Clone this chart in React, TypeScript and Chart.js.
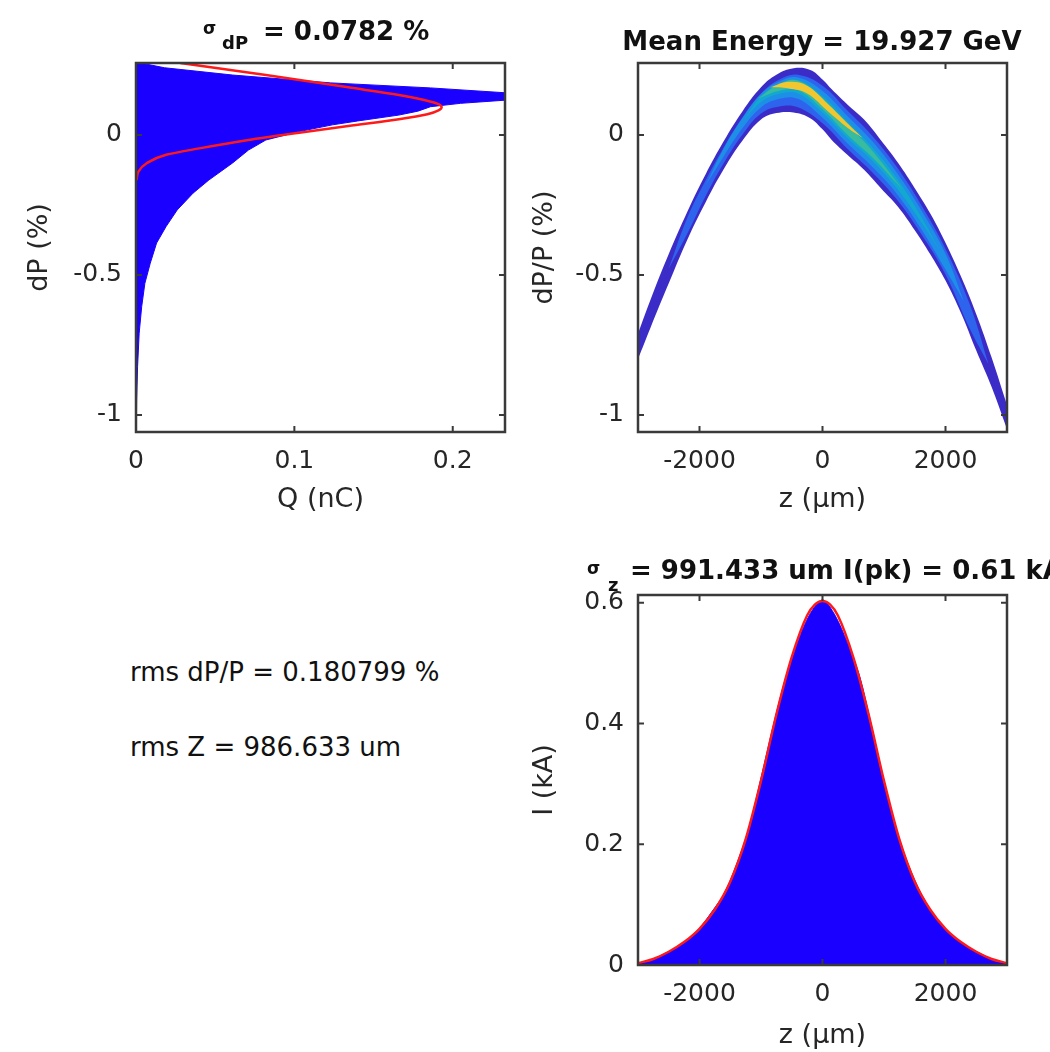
import React, { useEffect, useRef } from 'react';
import { Chart, registerables } from 'chart.js';

Chart.register(...registerables);

const FONT = '"DejaVu Sans", "Liberation Sans", sans-serif';
const INK = '#262626';
const FRAME = '#3a3a3a';
const BLUE = '#1a00ff';
const RED = '#ff1a1a';

// ---------- top-left: energy spectrum (Q vs dP) ----------
const SPEC_DP = [0.257, 0.24, 0.214, 0.186, 0.168, 0.15, 0.14, 0.125, 0.113, 0.101, 0.085, 0.071, 0.05, 0.036, 0.012, -0.018, -0.054, -0.1, -0.161, -0.208, -0.268, -0.327, -0.386, -0.458, -0.53, -0.613, -0.708, -0.827, -0.946, -1.061];
const SPEC_Q = [0.003, 0.018, 0.061, 0.123, 0.186, 0.235, 0.24, 0.235, 0.205, 0.186, 0.178, 0.166, 0.14, 0.124, 0.103, 0.082, 0.071, 0.061, 0.046, 0.036, 0.026, 0.019, 0.013, 0.009, 0.0056, 0.0036, 0.002, 0.001, 0.0004, 0.0002];
const FIT_DP = [0.257, 0.214, 0.17, 0.143, 0.125, 0.11, 0.099, 0.088, 0.074, 0.056, 0.032, 0.008, -0.018, -0.048, -0.071, -0.101, -0.131, -0.161];
const FIT_Q = [0.028, 0.082, 0.134, 0.166, 0.182, 0.191, 0.193, 0.191, 0.184, 0.166, 0.134, 0.103, 0.071, 0.04, 0.019, 0.0067, 0.0015, 0.0004];
const SPEC_Q_TICKS = [0, 0.1, 0.2];
const DP_TICKS = [-1, -0.5, 0];

// ---------- top-right: longitudinal phase space (density bands, outer -> core) ----------
const Z1 = [-3000, -2800, -2500, -2200, -1900, -1600, -1300, -1000, -750, -470, -200, 0, 150, 400, 680, 950, 1230, 1500, 1750, 2000, 2250, 2500, 2750, 3000];
const UP1 = [-0.71, -0.59, -0.425, -0.275, -0.14, -0.02, 0.085, 0.17, 0.215, 0.238, 0.232, 0.198, 0.163, 0.11, 0.054, -0.019, -0.1, -0.19, -0.28, -0.385, -0.505, -0.64, -0.795, -0.965];
const LO1 = [-0.8, -0.69, -0.53, -0.375, -0.24, -0.12, -0.02, 0.055, 0.078, 0.08, 0.06, 0.02, -0.018, -0.07, -0.125, -0.19, -0.257, -0.34, -0.425, -0.52, -0.635, -0.77, -0.9, -1.05];
const Z2 = [-2500, -2200, -1900, -1600, -1300, -1000, -700, -400, 0, 400, 800, 1200, 1600, 2000, 2400, 2700];
const UP2 = [-0.4775, -0.297, -0.162, -0.042, 0.063, 0.148, 0.198, 0.215, 0.176, 0.088, -0.001, -0.112, -0.248, -0.407, -0.608, -0.819];
const LO2 = [-0.4775, -0.353, -0.218, -0.098, 0.002, 0.077, 0.102, 0.099, 0.042, -0.048, -0.131, -0.228, -0.352, -0.498, -0.694, -0.819];
const Z3 = [-1900, -1600, -1300, -1000, -700, -400, 0, 400, 800, 1200, 1600, 2000, 2300];
const UP3 = [-0.18, -0.046, 0.0605, 0.1465, 0.191, 0.205, 0.157, 0.069, -0.02, -0.132, -0.266, -0.424, -0.595];
const LO3 = [-0.18, -0.074, 0.0245, 0.0985, 0.129, 0.129, 0.061, -0.029, -0.112, -0.208, -0.334, -0.481, -0.595];
const Z4 = [-1300, -1000, -700, -400, 0, 400, 800, 1200, 1600, 1900];
const UP4 = [0.0475, 0.1375, 0.183, 0.196, 0.139, 0.05, -0.042, -0.152, -0.29, -0.41];
const LO4 = [0.0475, 0.1175, 0.147, 0.148, 0.079, -0.01, -0.09, -0.188, -0.31, -0.41];
const Z5 = [-1050, -700, -400, 0, 400, 800, 1300];
const UP5 = [0.13, 0.182, 0.194, 0.132, 0.038, -0.054, -0.195];
const LO5 = [0.13, 0.158, 0.16, 0.092, 0.002, -0.078, -0.195];
const Z6 = [-850, -550, -250, 100, 400, 650];
const UP6 = [0.17, 0.19, 0.176, 0.108, 0.043, -0.01];
const LO6 = [0.17, 0.166, 0.148, 0.082, 0.027, -0.01];
const LAYER_COLORS = ['#f2c62e', '#38bb9e', '#12a8cf', '#1d8fe6', '#2e63ee', '#3b2cc8'];
const Z_TICKS = [-2000, 0, 2000];

// ---------- bottom-right: current profile ----------
const CUR_Z = [-3000, -2800, -2600, -2400, -2200, -2000, -1800, -1600, -1400, -1200, -1000, -800, -600, -400, -200, 0, 200, 400, 600, 800, 1000, 1200, 1400, 1600, 1800, 2000, 2200, 2400, 2600, 2800, 3000];
const CUR_I = [0.003, 0.008, 0.017, 0.028, 0.042, 0.061, 0.088, 0.118, 0.166, 0.226, 0.31, 0.397, 0.476, 0.536, 0.582, 0.605, 0.58, 0.535, 0.48, 0.395, 0.305, 0.226, 0.165, 0.119, 0.085, 0.06, 0.042, 0.028, 0.017, 0.008, 0.003];
const GFIT_Z = [-3000, -2750, -2500, -2250, -2000, -1750, -1500, -1250, -1000, -750, -500, -250, -125, 0, 125, 250, 500, 750, 1000, 1250, 1500, 1750, 2000, 2250, 2500, 2750, 3000];
const GFIT_I = [0.003, 0.01, 0.022, 0.038, 0.06, 0.092, 0.138, 0.208, 0.305, 0.415, 0.51, 0.579, 0.597, 0.603, 0.597, 0.579, 0.51, 0.415, 0.305, 0.208, 0.138, 0.092, 0.06, 0.038, 0.022, 0.01, 0.003];
const I_TICKS = [0, 0.2, 0.4, 0.6];

const framePlugin = {
  id: 'matlabFrame',
  afterDatasetsDraw(chart: any) {
    const { ctx, chartArea: a } = chart;
    const xs = chart.scales.x;
    const ys = chart.scales.y;
    const tl = 6;
    ctx.save();
    ctx.strokeStyle = FRAME;
    ctx.lineWidth = 2;
    ctx.beginPath();
    for (const t of xs.ticks) {
      const p = xs.getPixelForValue(t.value);
      ctx.moveTo(p, a.bottom);
      ctx.lineTo(p, a.bottom - tl);
      ctx.moveTo(p, a.top);
      ctx.lineTo(p, a.top + tl);
    }
    for (const t of ys.ticks) {
      const p = ys.getPixelForValue(t.value);
      ctx.moveTo(a.left, p);
      ctx.lineTo(a.left + tl, p);
      ctx.moveTo(a.right, p);
      ctx.lineTo(a.right - tl, p);
    }
    ctx.stroke();
    ctx.lineWidth = 2.5;
    ctx.strokeRect(a.left, a.top, a.right - a.left, a.bottom - a.top);
    ctx.restore();
  },
};

function axis(o: { min: number; max: number; ticks: number[]; size: number; isY: boolean; title: string; titlePad: number }) {
  return {
    type: 'linear',
    min: o.min,
    max: o.max,
    grid: { display: false, drawTicks: false },
    border: { display: false },
    afterBuildTicks: (s: any) => {
      s.ticks = o.ticks.map((v) => ({ value: v }));
    },
    afterFit: (s: any) => {
      if (o.isY) s.width = o.size;
      else s.height = o.size;
    },
    ticks: {
      padding: 14,
      color: INK,
      autoSkip: false,
      maxRotation: 0,
      font: { family: FONT, size: 25 },
      callback: (v: any) => String(v),
    },
    title: {
      display: true,
      text: o.title,
      color: INK,
      font: { family: FONT, size: 27 },
      padding: o.isY ? { top: o.titlePad, bottom: 0 } : { top: 0, bottom: o.titlePad },
    },
  };
}

const baseOptions = (padding: any) => ({
  responsive: false,
  animation: false,
  devicePixelRatio: 1,
  layout: { padding },
  plugins: { legend: { display: false }, tooltip: { enabled: false } },
  elements: { point: { radius: 0 } },
});

function specConfig(): any {
  return {
    type: 'line',
    data: {
      datasets: [
        {
          data: FIT_DP.map((d, i) => ({ x: FIT_Q[i], y: d })),
          borderColor: RED,
          borderWidth: 2.5,
          pointRadius: 0,
          fill: false,
          cubicInterpolationMode: 'monotone',
        },
        {
          data: SPEC_DP.map((d, i) => ({ x: SPEC_Q[i], y: d })),
          borderColor: BLUE,
          borderWidth: 1,
          backgroundColor: BLUE,
          pointRadius: 0,
          fill: 'origin',
          tension: 0,
        },
      ],
    },
    options: {
      ...baseOptions({ left: 0, top: 63, right: 15, bottom: 0 }),
      indexAxis: 'y',
      scales: {
        x: axis({ min: 0, max: 0.233, ticks: SPEC_Q_TICKS, size: 98, isY: false, title: 'Q (nC)', titlePad: 13.8 }),
        y: axis({ min: -1.061, max: 0.257, ticks: DP_TICKS, size: 136, isY: true, title: 'dP (%)', titlePad: 23.8 }),
      },
    },
    plugins: [framePlugin],
  };
}

function phaseConfig(): any {
  const layers = [
    { z: Z6, up: UP6, lo: LO6 },
    { z: Z5, up: UP5, lo: LO5 },
    { z: Z4, up: UP4, lo: LO4 },
    { z: Z3, up: UP3, lo: LO3 },
    { z: Z2, up: UP2, lo: LO2 },
    { z: Z1, up: UP1, lo: LO1 },
  ];
  const datasets: any[] = [];
  layers.forEach((l, k) => {
    datasets.push({
      data: l.z.map((z, i) => ({ x: z, y: l.up[i] })),
      fill: '+1',
      backgroundColor: LAYER_COLORS[k],
      borderColor: 'rgba(0,0,0,0)',
      borderWidth: 0,
      pointRadius: 0,
      tension: 0.4,
    });
    datasets.push({
      data: l.z.map((z, i) => ({ x: z, y: l.lo[i] })),
      fill: false,
      borderColor: 'rgba(0,0,0,0)',
      borderWidth: 0,
      pointRadius: 0,
      tension: 0.4,
    });
  });
  return {
    type: 'line',
    data: { datasets },
    options: {
      ...baseOptions({ left: 0, top: 63, right: 43, bottom: 0 }),
      scales: {
        x: axis({ min: -3000, max: 3000, ticks: Z_TICKS, size: 98, isY: false, title: 'z (\u03bcm)', titlePad: 13.8 }),
        y: axis({ min: -1.061, max: 0.257, ticks: DP_TICKS, size: 113, isY: true, title: 'dP/P (%)', titlePad: 3.8 }),
      },
    },
    plugins: [framePlugin],
  };
}

function currentConfig(): any {
  return {
    type: 'line',
    data: {
      datasets: [
        {
          data: GFIT_Z.map((z, i) => ({ x: z, y: GFIT_I[i] })),
          borderColor: RED,
          borderWidth: 2.5,
          pointRadius: 0,
          fill: false,
          cubicInterpolationMode: 'monotone',
        },
        {
          data: CUR_Z.map((z, i) => ({ x: z, y: CUR_I[i] })),
          borderColor: BLUE,
          borderWidth: 1,
          backgroundColor: BLUE,
          pointRadius: 0,
          fill: 'origin',
          tension: 0.3,
        },
      ],
    },
    options: {
      ...baseOptions({ left: 0, top: 65, right: 43, bottom: 0 }),
      scales: {
        x: axis({ min: -3000, max: 3000, ticks: Z_TICKS, size: 87, isY: false, title: 'z (\u03bcm)', titlePad: 0 }),
        y: axis({ min: 0, max: 0.613, ticks: I_TICKS, size: 113, isY: true, title: 'I (kA)', titlePad: 3.8 }),
      },
    },
    plugins: [framePlugin],
  };
}

function Panel(props: { left: number; top: number; width: number; height: number; make: () => any }) {
  const ref = useRef<HTMLCanvasElement>(null);
  useEffect(() => {
    const chart = new Chart(ref.current as HTMLCanvasElement, props.make());
    return () => chart.destroy();
  }, []);
  return (
    <canvas
      ref={ref}
      width={props.width}
      height={props.height}
      style={{ position: 'absolute', left: props.left, top: props.top, width: props.width, height: props.height }}
    />
  );
}

function Txt(props: { x: number; cy: number; size: number; bold?: boolean; center?: boolean; children: any }) {
  return (
    <div
      style={{
        position: 'absolute',
        left: props.x,
        top: props.cy - 15,
        lineHeight: '30px',
        height: 30,
        fontSize: props.size,
        fontWeight: props.bold ? 'bold' : 'normal',
        fontFamily: FONT,
        color: '#111',
        whiteSpace: 'nowrap',
        transform: props.center ? 'translateX(-50%)' : undefined,
      }}
    >
      {props.children}
    </div>
  );
}

export default function App() {
  return (
    <div
      style={{
        position: 'absolute',
        left: 0,
        top: 0,
        width: 1050,
        height: 1052,
        overflow: 'hidden',
        background: '#ffffff',
      }}
    >
      <Panel left={0} top={0} width={520} height={530} make={specConfig} />
      <Panel left={525} top={0} width={525} height={530} make={phaseConfig} />
      <Panel left={525} top={530} width={525} height={522} make={currentConfig} />

      <Txt x={203} cy={28} size={17} bold>{'\u03c3'}</Txt>
      <Txt x={222} cy={43} size={18} bold>dP</Txt>
      <Txt x={263} cy={31} size={26} bold>= 0.0782 %</Txt>

      <Txt x={822} cy={41} size={26} bold center>Mean Energy = 19.927 GeV</Txt>

      <Txt x={587} cy={568} size={17} bold>{'\u03c3'}</Txt>
      <Txt x={608} cy={585} size={18} bold>z</Txt>
      <Txt x={630} cy={570} size={26} bold>= 991.433 um I(pk) = 0.61 kA</Txt>

      <Txt x={130} cy={672} size={26}>rms dP/P = 0.180799 %</Txt>
      <Txt x={130} cy={747} size={26}>rms Z = 986.633 um</Txt>
    </div>
  );
}
